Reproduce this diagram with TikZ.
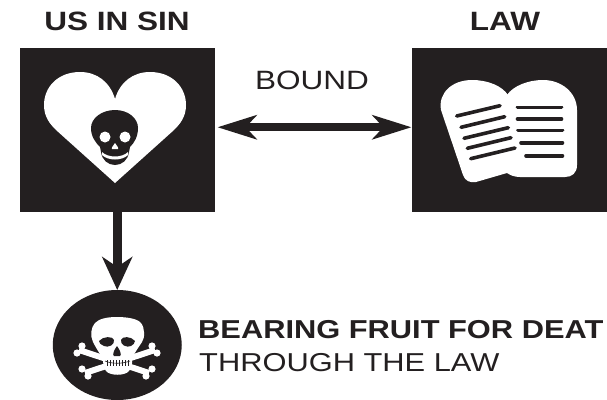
\documentclass[tikz,border=0pt]{standalone}
\usepackage{fontspec}
\setmainfont[FakeStretch=1.19]{Liberation Sans}
\usetikzlibrary{arrows.meta,shapes.geometric}
\definecolor{ink}{HTML}{231F20}
\tikzset{
  blackbox/.style={fill=ink,draw=none,inner sep=0pt,outer sep=0pt,rectangle},
  boldlab/.style={font=\fontsize{26.5}{28}\selectfont\bfseries,text=ink,inner sep=0pt},
  boldlong/.style={font=\fontsize{25.9}{28}\selectfont\bfseries,text=ink,inner sep=0pt},
  plainlab/.style={font=\fontsize{26.5}{28}\selectfont,text=ink,inner sep=0pt},
  plainlong/.style={font=\fontsize{25.9}{28}\selectfont,text=ink,inner sep=0pt},
  biarrow/.style={draw=ink,line width=8pt,{Stealth[length=39pt,width=24pt,inset=11pt]}-{Stealth[length=39pt,width=24pt,inset=11pt]}},
  downarrow/.style={draw=ink,line width=9.5pt,-{Stealth[length=33pt,width=30pt,inset=10pt]}},
  wfill/.style={fill=white,draw=none},
  kfill/.style={fill=ink,draw=none},
  tabline/.style={draw=ink,line width=3.6pt,line cap=round},
  bone/.style={draw=white,line width=6pt}
}
\begin{document}
\begin{tikzpicture}[x=1pt,y=-1pt]
\useasboundingbox (0,0) rectangle (607,399);
\node[blackbox,minimum width=194.5pt,minimum height=164.5pt] (sin) at (117.25,129.75) {};
\node[blackbox,minimum width=195.5pt,minimum height=164.5pt] (law) at (509.25,129.75) {};
\node[ellipse,fill=ink,draw=none,inner sep=0pt,outer sep=0pt,minimum width=129pt,minimum height=110pt] (death) at (117.25,345) {};
\node[boldlab,anchor=base] (t1) at (117,30) {US IN SIN};
\node[boldlab,anchor=base] (t2) at (505,30) {LAW};
\node[plainlab,anchor=base] (t3) at (312,89) {BOUND};
\node[boldlong,anchor=base west] (t4) at (198,338) {BEARING FRUIT FOR DEAT};
\node[plainlong,anchor=base west] (t5) at (199,371) {THROUGH THE LAW};
\draw[biarrow,shorten <=3pt] ([yshift=2.5pt]sin.east) -- ([yshift=2.5pt]law.west);
\draw[downarrow] (sin.south) -- (death.north);
% heart
\path[wfill] (115,99) .. controls (110,82) and (97,72) .. (80,72) .. controls (58,72) and (44,87) .. (44,105) .. controls (44,117) and (50,124) .. (56,130) -- (115,183) -- (174,130) .. controls (180,124) and (186,117) .. (186,105) .. controls (186,87) and (172,72) .. (150,72) .. controls (133,72) and (120,82) .. (115,99) -- cycle;
% small skull
\path[kfill] (115,110) .. controls (128,110) and (138,118) .. (138,128) .. controls (138,137) and (134,143) .. (130,147) -- (129,152) .. controls (128,160) and (122,165) .. (115,165) .. controls (108,165) and (102,160) .. (101,152) -- (100,147) .. controls (96,143) and (91,137) .. (91,128) .. controls (91,118) and (102,110) .. (115,110) -- cycle;
\path[wfill] (105,137) circle[radius=5.5];
\path[wfill] (125,137) circle[radius=5.5];
\path[wfill] (115,143) .. controls (117,145) and (119,149) .. (118,149) -- (112,149) .. controls (111,149) and (113,145) .. (115,143) -- cycle;
\path[wfill] (102,152) .. controls (108,158) and (122,158) .. (128,152) -- (128,155) .. controls (122,161) and (108,161) .. (102,155) -- cycle;
% tablets
\path[wfill] (507,95) .. controls (513,86) and (528,80) .. (543,80) .. controls (562,80) and (577,93) .. (577,110) -- (577,165) .. controls (577,173) and (572,177) .. (565,177) -- (520,177) .. controls (514,177) and (510,175) .. (507,173) -- cycle;
\path[wfill] (508,95) .. controls (502,86) and (488,80) .. (472,80) .. controls (452,80) and (438,93) .. (441,110) -- (463,175) .. controls (465,181) and (470,183) .. (476,182) -- (507,173) -- (520,150) -- cycle;
\foreach \a/\b/\c/\d in {517.5/107.3/561.5/107.3,517.5/119/561.5/119,518/130.3/562.5/130.3,521/142.7/562.5/142.7,526/155.7/562.5/155.7,456.7/116/500/105.7,461/127.3/504.7/116.7,464/138.3/508.3/127.7,467.3/148.3/511/137.7,470.7/158.7/515/148}
  \draw[tabline] (\a,\b) -- (\c,\d);
% bones
\foreach \a/\b/\c/\d in {155/350/85/373,79/350/149/373}{
  \draw[bone] (\a,\b) -- (\c,\d);
}
\foreach \x/\y in {152/346,157/353,82/369,88/376,82/346,77/353,152/369,146/376}
  \path[wfill] (\x,\y) circle[radius=3.6];
% big skull
\path[wfill] (117,317) .. controls (128,317) and (138,319) .. (141,323) .. controls (145,328) and (145,338) .. (142,342) .. controls (138,348) and (134,354) .. (132,358) .. controls (133,364) and (131,368) .. (129,371) .. controls (125,376) and (110,376) .. (106,371) .. controls (104,368) and (103,364) .. (103,359) .. controls (100,354) and (96,348) .. (93,342) .. controls (90,336) and (91,327) .. (95,323) .. controls (99,319) and (106,317) .. (117,317) -- cycle;
\path[kfill] (99,341) .. controls (103,336) and (113,336) .. (114,340) .. controls (115,345) and (108,348) .. (104,346) .. controls (101,345) and (99,343) .. (99,341) -- cycle;
\path[kfill] (135,341) .. controls (131,336) and (122,336) .. (121,340) .. controls (120,345) and (127,348) .. (131,346) .. controls (133,345) and (135,343) .. (135,341) -- cycle;
\path[kfill] (117,346) .. controls (120,350) and (122,355) .. (120,356) -- (114,356) .. controls (112,355) and (114,350) .. (117,346) -- cycle;
\draw[ink,line width=.6pt] (105,361) .. controls (112,364) and (122,364) .. (130,361);
\foreach \x in {107,110,...,128}
  \draw[ink,line width=.5pt] (\x,360) -- (\x,366);
\end{tikzpicture}
\end{document}
